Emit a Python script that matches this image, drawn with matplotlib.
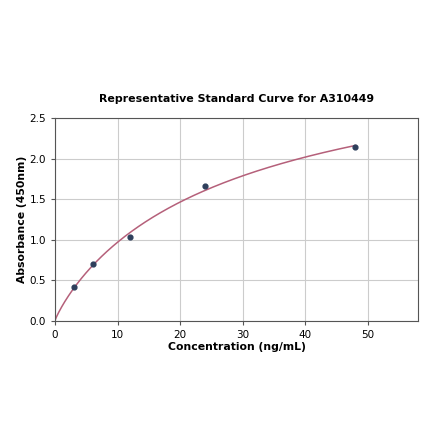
import numpy as np
import matplotlib
matplotlib.use("Agg")
import matplotlib.pyplot as plt

# standard points
conc = [0, 3, 6, 12, 24, 48]
absorb = [0.0, 0.42, 0.70, 1.03, 1.66, 2.15]

x_ticks = [0, 10, 20, 30, 40, 50]
y_ticks = [0.0, 0.5, 1.0, 1.5, 2.0, 2.5]

xs = np.array(conc, dtype=float)
ys = np.array(absorb)


# 4PL fit: y = d + (a - d) / (1 + (x/c)^b); a, d solved linearly per (b, c)
def fit_4pl(x, y):
    best = None
    for b in np.linspace(0.4, 1.6, 121):
        for c in np.geomspace(2, 500, 200):
            g = 1.0 / (1.0 + (x / c) ** b)
            A = np.column_stack([g, 1 - g])
            p, *_ = np.linalg.lstsq(A, y, rcond=None)
            err = np.sum((A @ p - y) ** 2)
            if best is None or err < best[0]:
                best = (err, b, c, p)
    return best[1:]


b, c, (a, d) = fit_4pl(xs, ys)
xfit = np.linspace(0, max(conc), 400)
yfit = d + (a - d) / (1 + (xfit / c) ** b)

fig = plt.figure(figsize=(4.40, 4.41), dpi=100)
ax = fig.add_axes([0.125, 0.272, 0.825, 0.46])

ax.plot(xfit, yfit, color="#b5607a", lw=1.1, zorder=2)
ax.scatter(conc[1:], absorb[1:], s=12, color="#2e3f5c", zorder=3)

ax.set_xlim(0, 58)
ax.set_ylim(0, 2.5)
ax.set_xticks(x_ticks)
ax.set_yticks(y_ticks)
ax.tick_params(labelsize=7.5, length=3, color="#555555")
ax.grid(True, color="#cccccc", lw=0.8)
ax.set_axisbelow(True)
for s in ax.spines.values():
    s.set_color("#555555")

ax.set_title("Representative Standard Curve for A310449", fontsize=7.9,
             fontweight="bold", pad=12)
ax.set_xlabel("Concentration (ng/mL)", fontsize=7.8, fontweight="bold",
              labelpad=1.5)
ax.set_ylabel("Absorbance (450nm)", fontsize=7.8, fontweight="bold",
              labelpad=2)

fig.savefig("out.png", dpi=100)
